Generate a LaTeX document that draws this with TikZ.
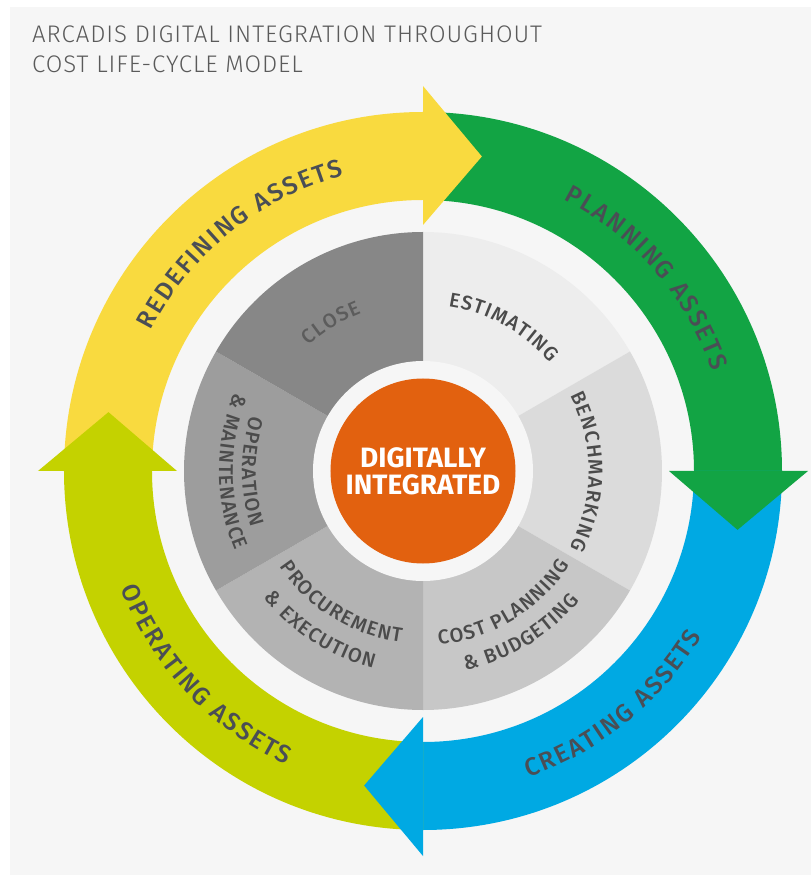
\documentclass[tikz,border=0pt]{standalone}
\usepackage{fontspec}
\setmainfont{Fira Sans}
\IfFontExistsTF{Fira Sans Light}{\newfontfamily\titlefont[LetterSpace=4]{Fira Sans Light}}{\newfontfamily\titlefont[LetterSpace=4]{Fira Sans}}
\IfFontExistsTF{Fira Sans Medium}{\newfontfamily\labelfont{Fira Sans Medium}}{\newfontfamily\labelfont{Fira Sans}}
\usetikzlibrary{decorations.text}

\definecolor{bgc}{HTML}{F6F6F6}
\definecolor{titlec}{HTML}{5A5A5A}
\definecolor{ringtext}{HTML}{4A4E55}
\definecolor{segtext}{HTML}{4B4B4B}
\definecolor{closetext}{HTML}{5C5C5C}
\definecolor{yellowc}{HTML}{F9DA3F}
\definecolor{greenc}{HTML}{12A444}
\definecolor{bluec}{HTML}{00A9E3}
\definecolor{limec}{HTML}{C4D200}
\definecolor{orangec}{HTML}{E2610F}
\definecolor{segclose}{HTML}{878787}
\definecolor{segestim}{HTML}{EDEDED}
\definecolor{segbench}{HTML}{DBDBDB}
\definecolor{segcost}{HTML}{C7C7C7}
\definecolor{segproc}{HTML}{B3B3B3}
\definecolor{segoper}{HTML}{9D9D9D}

\newcommand{\ringfmt}{\labelfont\fontsize{25}{25}\selectfont\color{ringtext}\kern2pt}
\newcommand{\segfmt}{\labelfont\fontsize{20}{20}\selectfont\color{segtext}\kern1.2pt}
%% text along an arc: centre angle, baseline radius, format, text
\newcommand{\cwlabel}[4]{\path[decorate,decoration={text along path,text align=center,text={|#3|#4}}]
  ({#1+70}:#2) arc[start angle={#1+70},end angle={#1-70},radius=#2];}
\newcommand{\ccwlabel}[4]{\path[decorate,decoration={text along path,text align=center,text={|#3|#4}}]
  ({#1-70}:#2) arc[start angle={#1-70},end angle={#1+70},radius=#2];}

\begin{document}
\begin{tikzpicture}[x=1pt,y=1pt]
        %% page
        \fill[white] (-423,-404) rectangle (388,471);
        \fill[bgc] (-413,-404) rectangle (388,464);
        \node[anchor=base west,inner sep=0,text=titlec,font=\titlefont\fontsize{24}{24}\selectfont] (title1) at (-391,428) {ARCADIS DIGITAL INTEGRATION THROUGHOUT};
        \node[anchor=base west,inner sep=0,text=titlec,font=\titlefont\fontsize{24}{24}\selectfont] (title2) at (-391,398) {COST LIFE-CYCLE MODEL};
        %% outer ring bands
        \foreach \a/\c in {180/yellowc,90/greenc,0/bluec,-90/limec}
            \fill[\c] (\a:271) arc[start angle=\a,end angle=\a-90,radius=271] -- ({\a-90}:359) arc[start angle=\a-90,end angle=\a,radius=359] -- cycle;
        %% arrow heads
        \foreach \a/\c in {90/yellowc,0/greenc,-90/bluec,180/limec}
            \fill[\c] (\a:246) -- (\a:385) -- ({\a-10.6}:320) -- cycle;
        %% ring labels
        \cwlabel{129}{306}{\ringfmt}{REDEFINING ASSETS}
        \cwlabel{41}{306}{\ringfmt}{PLANNING ASSETS}
        \ccwlabel{-51}{324}{\ringfmt}{CREATING ASSETS}
        \ccwlabel{-137}{324}{\ringfmt}{OPERATING ASSETS}
        %% pie segments
        \foreach \s/\c in {90/segestim,30/segbench,-30/segcost,-90/segproc,-150/segoper,150/segclose}
            \fill[\c] (0,0) -- (\s:239) arc[start angle=\s,end angle=\s-60,radius=239] -- cycle;
        \fill[bgc] (0,0) circle[radius=110];
        \fill[orangec] (0,0) circle[radius=92.5];
        \node[align=center,text=white,font=\bfseries\fontsize{28}{27}\selectfont] (core) at (0,0) {DIGITALLY\\INTEGRATED};
        %% segment labels
        \cwlabel{61}{166.5}{\segfmt}{ESTIMATING}
        \cwlabel{0}{165.5}{\segfmt}{BENCHMARKING}
        \cwlabel{122}{169.5}{\labelfont\fontsize{20}{20}\selectfont\color{closetext}\kern1.2pt}{CLOSE}
        \ccwlabel{180}{181}{\segfmt}{OPERATION}
        \ccwlabel{180}{204}{\segfmt}{{\&} MAINTENANCE}
        \ccwlabel{-122}{172.5}{\segfmt}{PROCUREMENT}
        \ccwlabel{-123}{203.5}{\segfmt}{{\&} EXECUTION}
        \ccwlabel{-59}{174.5}{\segfmt}{COST PLANNING}
        \ccwlabel{-59}{203.5}{\segfmt}{{\&} BUDGETING}
    \end{tikzpicture}
\end{document}
